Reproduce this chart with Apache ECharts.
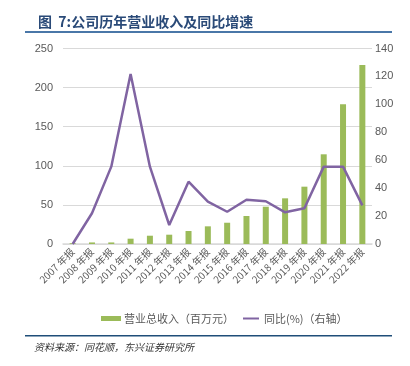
<!DOCTYPE html>
<html>
<head>
<meta charset="utf-8">
<script src="https://cdn.jsdelivr.net/npm/echarts@6/dist/echarts.min.js"></script>
<style>
  html, body { margin: 0; padding: 0; background: #fff; }
  #chart { width: 410px; height: 366px; }
</style>
</head>
<body>
<div id="chart"></div>
<script>
const years = ["2007 年报", "2008 年报", "2009 年报", "2010 年报", "2011 年报", "2012 年报",
  "2013 年报", "2014 年报", "2015 年报", "2016 年报", "2017 年报", "2018 年报",
  "2019 年报", "2020 年报", "2021 年报", "2022 年报"];
const revenue = [1, 2, 2, 6.8, 10.6, 11.9, 16.6, 22.6, 27.2, 35.8, 47.7, 58.4, 73.3, 114.7, 178.6, 229];
const growth = [0, 22, 55.4, 121.8, 55.4, 13.6, 44.6, 30.3, 23.1, 31.7, 30.6, 22.7, 25.6, 55.4, 55.4, 27.7];
const leftTicks = [0, 50, 100, 150, 200, 250];
const rightTicks = [0, 20, 40, 60, 80, 100, 120, 140];

const cjk = '"Noto Sans CJK SC", "Liberation Sans", sans-serif';
const num = '"Liberation Sans", "Noto Sans CJK SC", sans-serif';

const chart = echarts.init(document.getElementById('chart'));
chart.setOption({
  animation: false,
  backgroundColor: '#fff',
  title: {
    text: '图  7:公司历年营业收入及同比增速',
    left: 33, top: 10,
    textStyle: { fontFamily: cjk, fontSize: 14, fontWeight: 'bold', color: '#2a4a78' }
  },
  graphic: [
    { type: 'rect', shape: { x: 25, y: 31, width: 367, height: 2 }, style: { fill: '#4a77a8' } },
    { type: 'rect', shape: { x: 25, y: 335, width: 367, height: 1.5 }, style: { fill: '#1f4e79' } },
    {
      type: 'text', left: 34, top: 342,
      style: { text: '资料来源：同花顺，东兴证券研究所', font: 'italic 10px "Noto Sans CJK SC"', fill: '#333' }
    }
  ],
  legend: [
    {
      data: [{ name: '营业总收入（百万元）', icon: 'rect' }],
      left: 96, top: 308, itemWidth: 20, itemHeight: 5, itemGap: 4,
      textStyle: { fontFamily: cjk, fontSize: 11, color: '#595959', padding: [0, 0, 0, -2] }
    },
    {
      data: [{ name: '同比(%)（右轴）', icon: 'rect' }],
      left: 238, top: 308, itemWidth: 16, itemHeight: 2, itemGap: 4,
      textStyle: { fontFamily: cjk, fontSize: 11, color: '#595959' }
    }
  ],
  grid: { left: 63, right: 38, top: 48.5, bottom: 122 },
  xAxis: {
    type: 'category',
    data: years,
    axisLine: { lineStyle: { color: '#d9d9d9', width: 1.5 } },
    axisTick: { show: false },
    axisLabel: { rotate: 45, interval: 0, fontFamily: cjk, fontSize: 10, color: '#595959', margin: 6 }
  },
  yAxis: [
    {
      type: 'value', min: 0, max: 250, interval: 50,
      axisLine: { show: false }, axisTick: { show: false },
      splitLine: { lineStyle: { color: '#d9d9d9' } },
      axisLabel: { fontFamily: num, fontSize: 11, color: '#595959', margin: 10,
        formatter: v => leftTicks.includes(v) ? String(v) : '' }
    },
    {
      type: 'value', min: 0, max: 140, interval: 20,
      axisLine: { show: false }, axisTick: { show: false },
      splitLine: { show: false },
      axisLabel: { fontFamily: num, fontSize: 11, color: '#595959', margin: 3,
        formatter: v => rightTicks.includes(v) ? String(v) : '' }
    }
  ],
  series: [
    {
      name: '营业总收入（百万元）', type: 'bar', yAxisIndex: 0,
      data: revenue, barWidth: 6,
      itemStyle: { color: '#9bbb59' }
    },
    {
      name: '同比(%)（右轴）', type: 'line', yAxisIndex: 1,
      data: growth, symbol: 'none',
      lineStyle: { color: '#8064a2', width: 2.5 },
      itemStyle: { color: '#8064a2' }
    }
  ]
});
</script>
</body>
</html>
